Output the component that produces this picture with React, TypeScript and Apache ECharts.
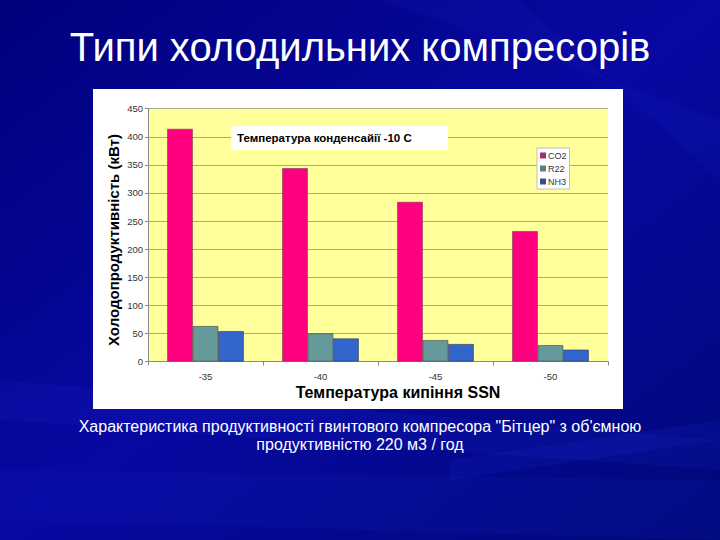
import React, { useEffect, useRef } from "react";
import * as echarts from "echarts";

const categories = ["-35", "-40", "-45", "-50"];
const co2 = [414, 344, 284, 232];
const r22 = [63, 50, 38, 29];
const nh3 = [54, 41, 31, 21];
const yTicks = { min: 0, max: 450, interval: 50 };

const FONT = "Liberation Sans, Arial, Helvetica, sans-serif";

export default function App() {
  const ref = useRef<HTMLDivElement>(null);
  useEffect(() => {
    if (!ref.current) return;
    const chart = echarts.init(ref.current, null, { renderer: "svg" });
    const streak = (pts: number[][], op: number) => ({
      type: "polygon",
      silent: true,
      z: -10,
      shape: { points: pts },
      style: { fill: "rgba(30,50,220," + op + ")" },
    });
    chart.setOption({
      animation: false,
      backgroundColor: {
        type: "linear",
        x: 0, y: 0, x2: 1, y2: 1,
        colorStops: [
          { offset: 0, color: "#00007c" },
          { offset: 0.5, color: "#0808a2" },
          { offset: 1, color: "#000878" },
        ],
      },
      graphic: [
        streak([[0, 380], [720, 440], [720, 470], [0, 420]], 0.12),
        streak([[0, 470], [720, 480], [720, 540], [0, 520]], 0.1),
        streak([[380, 0], [720, 120], [720, 180], [520, 0]], 0.1),
        streak([[450, 460], [720, 420], [720, 440], [450, 480]], 0.15),
        { type: "rect", z: -5, silent: true, shape: { x: 93, y: 89, width: 530, height: 320 }, style: { fill: "#ffffff" } },
        {
          type: "text", x: 360, y: 47,
          style: { text: "Типи холодильних компресорів", fill: "#ffffff", font: "40px " + FONT, align: "center", verticalAlign: "middle" },
        },
        {
          type: "text", x: 360, y: 435,
          style: {
            text: "Характеристика продуктивності гвинтового компресора \"Бітцер\" з об'ємною\nпродуктивністю 220 м3 / год",
            fill: "#ffffff", font: "16px " + FONT, align: "center", verticalAlign: "middle", lineHeight: 18,
          },
        },
        {
          type: "rect", z: 10, shape: { x: 231, y: 126, width: 217, height: 24 }, style: { fill: "#ffffff" },
        },
        {
          type: "text", z: 11, x: 237, y: 138,
          style: { text: "Температура конденсайії -10 C", fill: "#000000", font: "bold 11.5px " + FONT, verticalAlign: "middle" },
        },
        {
          type: "text", x: 113, y: 240, rotation: Math.PI / 2,
          style: { text: "Холодопродуктивність (кВт)", fill: "#000000", font: "bold 15px " + FONT, align: "center", verticalAlign: "middle" },
        },
        {
          type: "text", x: 398, y: 392,
          style: { text: "Температура кипіння SSN", fill: "#000000", font: "bold 16px " + FONT, align: "center", verticalAlign: "middle" },
        },
      ],
      grid: {
        left: 148, right: 112, top: 108.7, bottom: 178.5,
        show: true, backgroundColor: "#ffff9c", borderWidth: 0,
      },
      legend: {
        orient: "vertical", left: 537, top: 148,
        itemWidth: 6, itemHeight: 6, itemGap: 4,
        padding: [3, 3, 3, 3],
        backgroundColor: "#ffffff", borderColor: "#b0b0b0", borderWidth: 0.8,
        textStyle: { fontSize: 9, color: "#333", fontFamily: FONT, padding: [0, 0, 0, -3] },
        data: [
          { name: "CO2", icon: "rect", itemStyle: { color: "#a0306c", borderWidth: 0 } },
          { name: "R22", icon: "rect", itemStyle: { color: "#5f8080", borderWidth: 0 } },
          { name: "NH3", icon: "rect", itemStyle: { color: "#3a4f90", borderWidth: 0 } },
        ],
      },
      xAxis: {
        type: "category", data: categories,
        axisLine: { lineStyle: { color: "#888", width: 1 } },
        axisTick: { show: true, length: 4, lineStyle: { color: "#888" } },
        axisLabel: { fontSize: 9.5, color: "#333", fontFamily: FONT, margin: 10 },
      },
      yAxis: {
        type: "value", min: yTicks.min, max: yTicks.max, interval: yTicks.interval,
        axisLine: { show: true, lineStyle: { color: "#888", width: 1 } },
        axisTick: { show: true, length: 3, lineStyle: { color: "#888" } },
        axisLabel: { fontSize: 9.5, color: "#333", fontFamily: FONT, margin: 5 },
        splitLine: { lineStyle: { color: "#a8a890", width: 1 } },
      },
      series: [
        { name: "CO2", type: "bar", data: co2, barWidth: 25.5, barGap: 0, itemStyle: { color: "#ff0080", borderColor: "#7a3050", borderWidth: 0.6 } },
        { name: "R22", type: "bar", data: r22, barWidth: 25.5, barGap: 0, itemStyle: { color: "#669999", borderColor: "#404848", borderWidth: 0.6 } },
        { name: "NH3", type: "bar", data: nh3, barWidth: 25.5, barGap: 0, itemStyle: { color: "#3366cc", borderColor: "#303850", borderWidth: 0.6 } },
      ],
    });
    return () => chart.dispose();
  }, []);
  return <div ref={ref} style={{ position: "fixed", left: 0, top: 0, width: 720, height: 540 }} />;
}
